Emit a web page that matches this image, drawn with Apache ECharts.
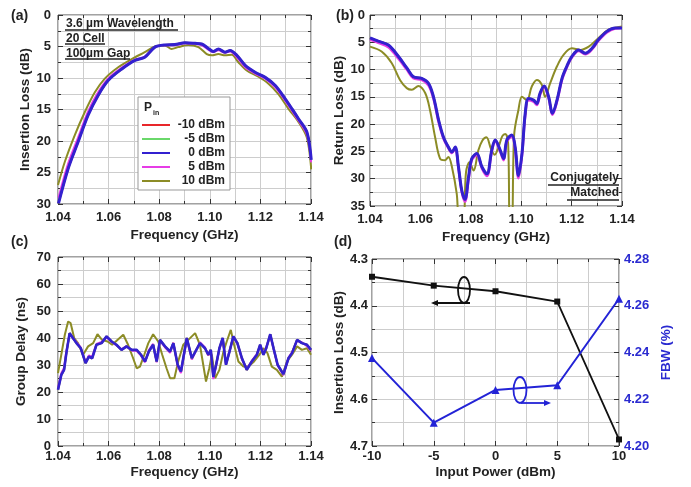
<!DOCTYPE html>
<html><head><meta charset="utf-8">
<script src="https://cdn.jsdelivr.net/npm/echarts@6/dist/echarts.min.js"></script>
<style>html,body{margin:0;padding:0;background:#fff}#c{width:691px;height:487px}</style>
</head><body><div id="c"></div>
<script>
// ---------- (a) Insertion loss vs frequency ----------
const freqA_blue = [1.0402,1.044,1.0479,1.0519,1.0558,1.0598,1.0651,1.0704,1.0743,1.0783,1.0823,1.0862,1.0902,1.0942,1.0968,1.0994,1.1014,1.1034,1.106,1.108,1.1107,1.114,1.1179,1.1219,1.1259,1.1298,1.1325,1.1351,1.1384,1.1401];
const ilA_blue   = [29.9,24.4,20.2,15.9,12.8,10.4,8.6,7.2,6.7,5.1,4.75,4.7,4.4,4.5,4.6,5.3,5.8,5.4,5.9,5.65,6.4,8.0,9.1,9.9,11.2,13.3,14.9,16.5,18.6,23.0];
const ilA_mag    = [29.0,23.6,19.5,15.3,12.3,10.1,8.4,7.1,6.6,5.1,4.8,4.8,4.5,4.6,4.8,5.5,5.9,5.6,6.0,5.8,6.7,8.3,9.3,10.1,11.5,13.6,15.2,16.8,19.0,23.4];
const freqA_olive = [1.040,1.0427,1.0466,1.0506,1.0545,1.0585,1.0638,1.0691,1.0743,1.0783,1.0823,1.0849,1.0875,1.0915,1.0955,1.0988,1.1008,1.1034,1.106,1.1087,1.1113,1.1146,1.1192,1.1232,1.1272,1.1311,1.1351,1.1384,1.1401];
const ilA_olive   = [27.0,23.3,19.1,15.4,12.3,10.1,8.3,7.0,5.9,5.0,4.85,5.4,5.1,4.75,5.1,6.2,6.4,6.2,6.4,6.3,7.5,8.8,9.8,10.9,12.6,14.9,17.0,19.5,24.5];

// ---------- (b) Return loss vs frequency ----------
const freqB_blue = [1.04,1.0433,1.0473,1.0513,1.0546,1.0572,1.0605,1.0632,1.0652,1.0672,1.0691,1.0711,1.0725,1.0738,1.0751,1.0764,1.0777,1.0791,1.0804,1.0824,1.0844,1.0864,1.0883,1.0897,1.0917,1.093,1.0943,1.0963,1.0976,1.0989,1.1003,1.1016,1.1029,1.1049,1.1062,1.1075,1.1091,1.1109,1.1124,1.1142,1.1162,1.1181,1.1201,1.1228,1.1254,1.1281,1.1307,1.134,1.1373,1.14];
const rlB_blue   = [4.2,4.8,5.5,7.6,9.7,11.3,11.6,12.5,15.0,19.2,22.3,24.2,25.1,24.2,27.8,32.1,33.8,29.7,26.3,25.4,27.8,29.1,24.8,22.9,24.8,26.3,22.9,22.0,24.2,29.4,25.4,18.0,15.3,15.6,16.2,14.3,13.0,15.0,18.0,15.6,11.6,9.4,7.6,6.4,7.0,6.1,4.5,3.0,2.4,2.4];
const rlB_mag    = [4.5,5.1,5.9,8.0,10.0,11.6,11.9,12.9,15.4,19.6,22.6,24.4,25.3,24.5,28.1,32.4,34.2,30.2,26.6,25.7,28.1,29.5,25.1,23.2,25.1,26.6,23.2,22.3,24.6,29.9,25.8,18.4,15.6,15.9,16.5,14.6,13.3,15.3,18.3,15.9,11.9,9.6,7.8,6.6,7.2,6.3,4.7,3.2,2.5,2.4];
const freqB_olive = [1.0400,1.0446,1.0486,1.0519,1.0546,1.0566,1.0592,1.0619,1.0638,1.0658,1.0678,1.0698,1.0711,1.0725,1.0744,1.0755,1.0770,1.0781,1.0795,1.0811,1.0830,1.0846,1.0862,1.0880,1.0895,1.0910,1.0925,1.0937,1.0948,1.0955,1.0963,1.0972,1.0989,1.1003,1.1023,1.1042,1.1062,1.1082,1.1095,1.1115,1.1142,1.1168,1.1201,1.1234,1.1268,1.1307,1.1347,1.1400];
const rlB_olive   = [5.8,6.7,8.8,11.9,13.4,13.7,13.0,14.3,17.4,22.3,26.3,26.6,26.0,27.8,32.7,38,38,28.8,27.0,28.5,24.8,23.0,22.4,24.5,25.6,24.2,22.2,21.8,23.5,38,38,22.0,17.4,15.0,15.6,13.1,11.9,12.8,15.0,12.5,9.4,7.3,6.1,6.4,5.8,4.2,2.7,2.1];

// ---------- (c) Group delay vs frequency ----------
const freqC_blue = [1.040,1.0413,1.0424,1.0433,1.0446,1.0459,1.0473,1.049,1.0509,1.0522,1.0535,1.0552,1.0572,1.0592,1.0612,1.0631,1.0651,1.0671,1.0691,1.0711,1.0728,1.0744,1.0759,1.0776,1.079,1.0803,1.0823,1.0843,1.0856,1.0873,1.0886,1.0909,1.0929,1.0961,1.0981,1.0994,1.1004,1.1014,1.1025,1.1038,1.1051,1.1064,1.1078,1.1093,1.1109,1.1127,1.1146,1.1166,1.1186,1.1199,1.1212,1.1223,1.1239,1.1252,1.1268,1.1291,1.1311,1.1325,1.1345,1.1364,1.1384,1.14];
const gdC_blue   = [20.8,26.3,28.2,34.4,41.8,40.0,38.1,36.2,30.7,33.1,32.5,37.5,38.1,40.6,38.7,37.5,35.6,36.9,35.6,35.6,33.8,31.3,35.0,37.5,31.3,39.3,36.9,35.0,38.1,30.1,27.6,40.0,32.5,38.1,36.2,33.8,35.6,25.6,30.1,36.2,40.0,30.1,35.0,40.6,38.1,32.5,28.2,31.3,33.8,37.5,33.8,36.2,41.4,36.2,30.1,26.6,32.5,34.4,39.3,38.1,37.5,35.6];
const gdC_mag    = [21.5,27.0,29.0,35.0,41.5,40.0,38.5,36.5,31.0,33.5,33.0,37.8,38.5,40.2,38.5,37.2,35.8,37.0,35.4,35.2,33.5,31.0,35.5,37.8,31.0,39.0,36.5,34.5,38.3,29.5,27.0,39.6,32.0,38.4,36.5,33.5,35.2,24.8,29.6,36.0,39.5,30.5,35.4,40.2,38.0,32.0,28.6,31.6,34.0,37.0,34.2,36.6,41.0,35.8,29.8,26.2,32.8,34.8,39.0,38.4,37.0,35.2];
const freqC_olive = [1.040,1.0413,1.0427,1.044,1.045,1.0464,1.0479,1.0499,1.0519,1.0539,1.0556,1.0574,1.0596,1.0614,1.0635,1.0658,1.0677,1.0697,1.0711,1.0724,1.0741,1.0757,1.0776,1.0796,1.0812,1.0829,1.0843,1.086,1.0875,1.0895,1.0915,1.0942,1.0961,1.0985,1.0998,1.1008,1.1021,1.1038,1.1054,1.1067,1.1083,1.1096,1.1113,1.1133,1.1153,1.1175,1.1196,1.1212,1.1228,1.1245,1.1265,1.1285,1.1305,1.1325,1.1345,1.1364,1.1384,1.14];
const gdC_olive   = [27.0,33.8,41.2,46.1,45.5,40.0,38.1,33.8,36.9,38.1,41.4,39.3,38.7,37.5,39.3,41.2,37.5,32.5,28.8,29.4,33.8,38.1,41.4,38.7,33.8,28.8,25.1,25.1,31.3,37.5,39.3,41.8,37.5,23.9,28.8,33.8,25.1,28.2,35.0,38.7,43.0,37.5,31.3,29.4,29.4,31.3,33.8,36.2,34.4,29.4,28.2,25.7,31.3,33.8,36.9,35.6,36.2,33.8];

// ---------- (d) vs input power ----------
const powerD = [-10,-5,0,5,10];
const ilD    = [4.338,4.357,4.369,4.391,4.686];
const fbwD   = [4.2376,4.210,4.224,4.226,4.263];

const legendNames = ['-10 dBm','-5 dBm','0 dBm','5 dBm','10 dBm'];
const C = {red:'#e8262a', green:'#6ad86a', blue:'#3320d0', mag:'#e63ce6', olive:'#8c8c26'};

const zip = (xs, ys) => xs.slice(0, Math.min(xs.length, ys.length)).map((x,i)=>[x, ys[i]]);
const FONT = '"Liberation Sans", Arial, sans-serif';
const GRID_C = '#cdcdcd', AX_C = '#333';

function axis(o) {
  const mirror = !!o.mirror;
  return Object.assign({
    type:'value',
    axisLine:{show:false, onZero:false},
    axisTick:{show:true, inside:true, length:5, lineStyle:{color:AX_C}},
    minorTick:{show:true, splitNumber:2, length:3, lineStyle:{color:AX_C}},
    splitLine:{show:!mirror, lineStyle:{color:GRID_C, width:1}},
    minorSplitLine:{show:!mirror, lineStyle:{color:GRID_C, width:1}},
    axisLabel:{show:!mirror, fontFamily:FONT, fontWeight:'bold', fontSize:13, color:'#222', margin:o.margin||6, formatter:o.fmt},
    nameLocation:'middle',
    nameTextStyle:{fontFamily:FONT, fontWeight:'bold', fontSize:13.5, color:o.nameColor||'#222'}
  }, o.extra || {}, {gridIndex:o.g, min:o.min, max:o.max, interval:o.interval, inverse:!!o.inverse, position:o.position, name:o.name||'', nameGap:o.nameGap||0});
}
const f2 = v => v.toFixed(2), f1 = v => v.toFixed(1), f0 = v => String(Math.round(v));
const freqX = (g, gap, margin) => [
  axis({g, min:1.04, max:1.14, interval:0.02, fmt:f2, position:'bottom', name:'Frequency (GHz)', nameGap:gap, margin}),
  axis({g, min:1.04, max:1.14, interval:0.02, position:'top', mirror:true})
];

const xAxis = [].concat(
  freqX(0, 24, 7), freqX(1, 24, 7), freqX(2, 19, 4),
  [axis({g:3, min:-10, max:10, interval:5, fmt:f0, position:'bottom', name:'Input Power (dBm)', nameGap:19, margin:4}),
   axis({g:3, min:-10, max:10, interval:5, position:'top', mirror:true})]
);
const yAxis = [
  axis({g:0, min:0, max:30, interval:5, inverse:true, fmt:f0, position:'left', name:'Insertion Loss (dB)', nameGap:26, margin:7}),
  axis({g:0, min:0, max:30, interval:5, inverse:true, position:'right', mirror:true}),
  axis({g:1, min:0, max:35, interval:5, inverse:true, fmt:f0, position:'left', name:'Return Loss (dB)', nameGap:23, margin:5}),
  axis({g:1, min:0, max:35, interval:5, inverse:true, position:'right', mirror:true}),
  axis({g:2, min:0, max:70, interval:10, fmt:f0, position:'left', name:'Group Delay (ns)', nameGap:30, margin:7}),
  axis({g:2, min:0, max:70, interval:10, position:'right', mirror:true}),
  axis({g:3, min:4.3, max:4.7, interval:0.1, inverse:true, fmt:f1, position:'left', name:'Insertion Loss (dB)', nameGap:26, margin:4}),
  axis({g:3, min:4.20, max:4.28, interval:0.02, fmt:f2, position:'right', name:'FBW (%)', nameGap:40, margin:5, nameColor:'#2a2ad0',
        extra:{splitLine:{show:false}, minorSplitLine:{show:false},
               axisLabel:{fontFamily:FONT, fontWeight:'bold', fontSize:13, color:'#2a2ad0', margin:5, formatter:f2}}})
];

function ln(name, xi, data, color, width, smooth) {
  return {type:'line', name, xAxisIndex:xi, yAxisIndex:xi, data, symbol:'none', smooth:smooth,
          lineStyle:{color, width}, itemStyle:{color}, clip:true, silent:true};
}
const series = [
  // (a)
  ln('10 dBm', 0, zip(freqA_olive, ilA_olive), C.olive, 2, 0.3),
  ln('5 dBm', 0, zip(freqA_blue, ilA_mag), C.mag, 2, 0.3),
  ln('-10 dBm', 0, zip(freqA_blue, ilA_blue), C.red, 2, 0.3),
  ln('-5 dBm', 0, zip(freqA_blue, ilA_blue), C.green, 2, 0.3),
  ln('0 dBm', 0, zip(freqA_blue, ilA_blue), C.blue, 3, 0.3),
  // (b)
  ln('10 dBm', 2, zip(freqB_olive, rlB_olive), C.olive, 2, 0.35),
  ln('5 dBm', 2, zip(freqB_blue, rlB_mag), C.mag, 2.5, 0.35),
  ln('-10 dBm', 2, zip(freqB_blue, rlB_blue), C.red, 2, 0.35),
  ln('-5 dBm', 2, zip(freqB_blue, rlB_blue), C.green, 2, 0.35),
  ln('0 dBm', 2, zip(freqB_blue, rlB_blue), C.blue, 3, 0.35),
  // (c)
  ln('10 dBm', 4, zip(freqC_olive, gdC_olive), C.olive, 2, false),
  ln('5 dBm', 4, zip(freqC_blue, gdC_mag), C.mag, 2, false),
  ln('-10 dBm', 4, zip(freqC_blue, gdC_blue), C.red, 2, false),
  ln('-5 dBm', 4, zip(freqC_blue, gdC_blue), C.green, 2, false),
  ln('0 dBm', 4, zip(freqC_blue, gdC_blue), C.blue, 2.6, false),
  // (d)
  {type:'line', name:'IL', xAxisIndex:6, yAxisIndex:6, data:zip(powerD, ilD), symbol:'rect', symbolSize:6,
   lineStyle:{color:'#111', width:1.8}, itemStyle:{color:'#111'}, silent:true},
  {type:'line', name:'FBW', xAxisIndex:6, yAxisIndex:7, data:zip(powerD, fbwD), symbol:'triangle', symbolSize:8,
   lineStyle:{color:'#2323d6', width:2}, itemStyle:{color:'#2323d6'}, silent:true}
];

const gridBase = {show:true, borderColor:'#444', borderWidth:1, backgroundColor:'#fff', containLabel:false};
const grid = [
  Object.assign({left:58, top:15, width:253, height:189}, gridBase),
  Object.assign({left:370, top:15, width:252, height:191}, gridBase),
  Object.assign({left:58, top:257, width:253, height:189}, gridBase),
  Object.assign({left:372, top:259, width:247, height:187}, gridBase)
];

const txt = (left, top, text, size, extra) => Object.assign({type:'text', left, top, z:100,
  style:{text, fontFamily:FONT, fontWeight:'bold', fontSize:size, fill:'#222'}}, extra||{});
const hline = (x1, x2, y, w) => ({type:'line', z:100, shape:{x1, y1:y, x2, y2:y}, style:{stroke:'#222', lineWidth:w||1.3}});

const graphic = [
  txt(11, 9, '(a)', 14), txt(336, 9, '(b)', 14), txt(11, 235, '(c)', 14), txt(334, 235, '(d)', 14),
  txt(66, 18, '3.6 µm Wavelength', 12), hline(65, 178, 30),
  txt(66, 33, '20 Cell', 12), hline(65, 105, 44),
  txt(66, 48, '100µm Gap', 12), hline(65, 130, 59),
  {type:'text', right:691-619, top:172, z:100, style:{text:'Conjugately', fontFamily:FONT, fontWeight:'bold', fontSize:12, fill:'#222'}},
  hline(548, 619, 185),
  {type:'text', right:691-619, top:187, z:100, style:{text:'Matched', fontFamily:FONT, fontWeight:'bold', fontSize:12, fill:'#222'}},
  hline(567, 619, 200),
  txt(144, 102, 'P', 12), txt(153, 110, 'in', 7),
  // (d) annotations
  {type:'ellipse', z:100, shape:{cx:464, cy:290, rx:6, ry:13}, style:{fill:'none', stroke:'#111', lineWidth:1.8}},
  {type:'line', z:100, shape:{x1:470, y1:303, x2:437, y2:303}, style:{stroke:'#111', lineWidth:1.8}},
  {type:'polygon', z:100, shape:{points:[[431,303],[438,300],[438,306]]}, style:{fill:'#111'}},
  {type:'ellipse', z:100, shape:{cx:520, cy:390, rx:6.5, ry:13}, style:{fill:'none', stroke:'#2323d6', lineWidth:1.8}},
  {type:'line', z:100, shape:{x1:521, y1:403, x2:545, y2:403}, style:{stroke:'#2323d6', lineWidth:1.8}},
  {type:'polygon', z:100, shape:{points:[[551,403],[544,400],[544,406]]}, style:{fill:'#2323d6'}}
];

const chart = echarts.init(document.getElementById('c'), null, {renderer:'canvas'});
chart.setOption({
  animation:false,
  backgroundColor:'#fff',
  grid, xAxis, yAxis, series, graphic,
  legend:{
    data:legendNames, orient:'vertical', left:138, top:97, width:89,
    padding:[22,5,3,4], itemGap:2, itemWidth:28, itemHeight:2, icon:'rect',
    borderColor:'#999', borderWidth:1, backgroundColor:'#fff', selectedMode:false, z:50,
    textStyle:{fontFamily:FONT, fontWeight:'bold', fontSize:12, color:'#222',
               rich:{r:{width:50, align:'right', fontFamily:FONT, fontWeight:'bold', fontSize:12, color:'#222'}}},
    formatter: n => '{r|' + n + '}'
  }
});
</script></body></html>
